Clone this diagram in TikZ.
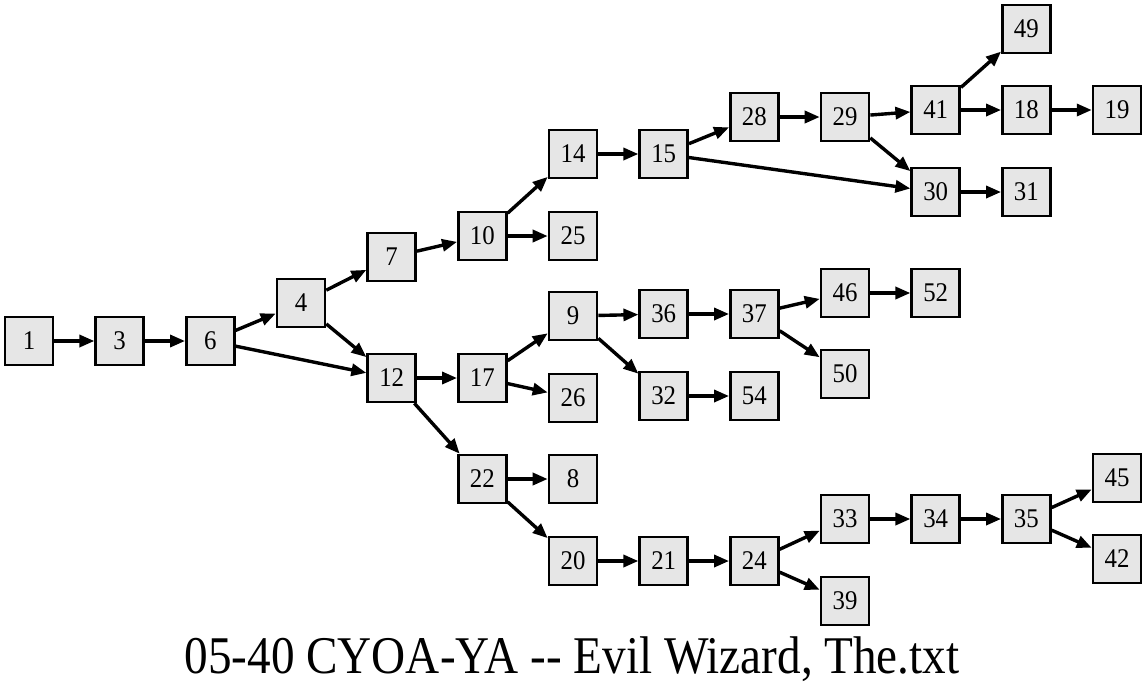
\documentclass[tikz,border=0pt]{standalone}
\usepackage{fontspec}
\setmainfont{Liberation Serif}
\newfontfamily\pagefont[FakeStretch=0.92]{Liberation Serif}
\newfontfamily\titlefont[FakeStretch=0.89]{Liberation Serif}
\usetikzlibrary{positioning,arrows.meta}
\definecolor{pagefill}{RGB}{230,230,230}

\begin{document}
\begin{tikzpicture}[x=1pt, y=-1pt, node distance=90.67pt,
    page/.style={draw, fill=pagefill, line width=2.6pt, minimum size=48pt, inner sep=0pt, font=\pagefont\fontsize{27}{29}\selectfont},
    link/.style={line width=3.4pt, -{Triangle[length=15pt,width=12pt]}}]
        \useasboundingbox (0,0) rectangle (1147,689);

        % Nodes
        \node (p1) [page] at (29,341) {1};
        \node (p3) [page, right of=p1] {3};
        \node (p6) [page, right of=p3] {6};
        \node (p4) [page, right of=p6, yshift=38pt] {4};
        \node (p7) [page, right of=p4, yshift=46pt] {7};
        \node (p12) [page, right of=p4, yshift=-75pt] {12};
        \node (p10) [page, right of=p7, yshift=21pt] {10};
        \node (p14) [page, right of=p10, yshift=82pt] {14};
        \node (p25) [page, right of=p10] {25};
        \node (p15) [page, right of=p14] {15};
        \node (p28) [page, right of=p15, yshift=37pt] {28};
        \node (p29) [page, right of=p28] {29};
        \node (p41) [page, right of=p29, yshift=7pt] {41};
        \node (p30) [page, right of=p29, yshift=-75pt] {30};
        \node (p31) [page, right of=p30] {31};
        \node (p49) [page, right of=p41, yshift=81pt] {49};
        \node (p18) [page, right of=p41] {18};
        \node (p19) [page, right of=p18] {19};
        \node (p17) [page, right of=p12] {17};
        \node (p22) [page, right of=p12, yshift=-101pt] {22};
        \node (p9) [page, right of=p17, yshift=62pt] {9};
        \node (p26) [page, right of=p17, yshift=-20pt] {26};
        \node (p36) [page, right of=p9, yshift=2pt] {36};
        \node (p37) [page, right of=p36] {37};
        \node (p46) [page, right of=p37, yshift=21pt] {46};
        \node (p50) [page, right of=p37, yshift=-60pt] {50};
        \node (p52) [page, right of=p46] {52};
        \node (p32) [page, right of=p9, yshift=-80pt] {32};
        \node (p54) [page, right of=p32] {54};
        \node (p8) [page, right of=p22] {8};
        \node (p20) [page, right of=p22, yshift=-82pt] {20};
        \node (p21) [page, right of=p20] {21};
        \node (p24) [page, right of=p21] {24};
        \node (p33) [page, right of=p24, yshift=42pt] {33};
        \node (p39) [page, right of=p24, yshift=-40pt] {39};
        \node (p34) [page, right of=p33] {34};
        \node (p35) [page, right of=p34] {35};
        \node (p45) [page, right of=p35, yshift=41pt] {45};
        \node (p42) [page, right of=p35, yshift=-40pt] {42};
        \node (title) [anchor=base, font=\titlefont\fontsize{53}{56}\selectfont] at (572,673) {05-40 CYOA-YA -{}- Evil Wizard, The.txt};

        % Edges
        \draw[link] (p1) -- (p3);
        \draw[link] (p3) -- (p6);
        \draw[link] (p6) -- (p4);
        \draw[link] (p6) -- (p12);
        \draw[link] (p4) -- (p7);
        \draw[link] (p4) -- (p12);
        \draw[link] (p7) -- (p10);
        \draw[link] (p10) -- (p14);
        \draw[link] (p10) -- (p25);
        \draw[link] (p14) -- (p15);
        \draw[link] (p15) -- (p28);
        \draw[link] (p15) -- (p30);
        \draw[link] (p28) -- (p29);
        \draw[link] (p29) -- (p41);
        \draw[link] (p29) -- (p30);
        \draw[link] (p41) -- (p49);
        \draw[link] (p41) -- (p18);
        \draw[link] (p18) -- (p19);
        \draw[link] (p30) -- (p31);
        \draw[link] (p12) -- (p17);
        \draw[link] (p12) -- (p22);
        \draw[link] (p17) -- (p9);
        \draw[link] (p17) -- (p26);
        \draw[link] (p9) -- (p36);
        \draw[link] (p9) -- (p32);
        \draw[link] (p36) -- (p37);
        \draw[link] (p37) -- (p46);
        \draw[link] (p37) -- (p50);
        \draw[link] (p46) -- (p52);
        \draw[link] (p32) -- (p54);
        \draw[link] (p22) -- (p8);
        \draw[link] (p22) -- (p20);
        \draw[link] (p20) -- (p21);
        \draw[link] (p21) -- (p24);
        \draw[link] (p24) -- (p33);
        \draw[link] (p24) -- (p39);
        \draw[link] (p33) -- (p34);
        \draw[link] (p34) -- (p35);
        \draw[link] (p35) -- (p45);
        \draw[link] (p35) -- (p42);
    \end{tikzpicture}
\end{document}
